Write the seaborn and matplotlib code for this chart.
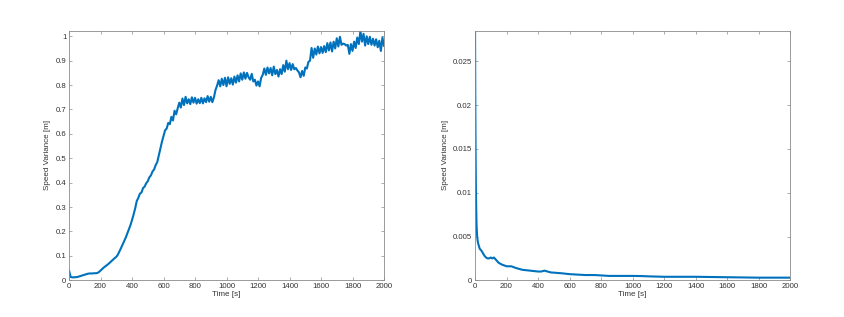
import numpy as np
import pandas as pd
import matplotlib
matplotlib.use("Agg")
import matplotlib.pyplot as plt
import seaborn as sns

# left panel: speed variance growing over time (sampled every 10 s)
time_left = list(range(0, 2001, 10))
var_left = [
    0.040, 0.014, 0.012, 0.012, 0.013, 0.013, 0.015, 0.017, 0.019, 0.021,
    0.023, 0.025, 0.027, 0.028, 0.028, 0.028, 0.029, 0.029, 0.030, 0.034,
    0.040, 0.046, 0.052, 0.057, 0.062, 0.067, 0.073, 0.079, 0.085, 0.091,
    0.096, 0.105, 0.118, 0.132, 0.146, 0.160, 0.175, 0.192, 0.208, 0.226,
    0.247, 0.270, 0.295, 0.325, 0.338, 0.355, 0.360, 0.378, 0.384, 0.398,
    0.406, 0.422, 0.430, 0.446, 0.454, 0.472, 0.484, 0.512, 0.538, 0.568,
    0.592, 0.615, 0.622, 0.645, 0.640, 0.670, 0.655, 0.695, 0.680, 0.705,
    0.728, 0.708, 0.745, 0.718, 0.752, 0.725, 0.742, 0.722, 0.750, 0.728,
    0.748, 0.724, 0.742, 0.726, 0.748, 0.725, 0.746, 0.730, 0.755, 0.732,
    0.752, 0.730, 0.750, 0.780, 0.798, 0.820, 0.795, 0.826, 0.800, 0.830,
    0.795, 0.832, 0.805, 0.828, 0.802, 0.835, 0.810, 0.840, 0.815, 0.848,
    0.822, 0.852, 0.826, 0.850, 0.832, 0.822, 0.846, 0.815, 0.822, 0.798,
    0.815, 0.795, 0.830, 0.842, 0.868, 0.842, 0.872, 0.848, 0.870, 0.840,
    0.876, 0.845, 0.862, 0.835, 0.865, 0.845, 0.882, 0.855, 0.900, 0.865,
    0.890, 0.862, 0.886, 0.865, 0.870, 0.860, 0.852, 0.832, 0.858, 0.838,
    0.872, 0.868, 0.895, 0.900, 0.952, 0.912, 0.950, 0.925, 0.958, 0.930,
    0.956, 0.932, 0.960, 0.935, 0.972, 0.942, 0.975, 0.938, 0.978, 0.950,
    0.992, 0.958, 0.998, 0.965, 0.970, 0.968, 0.962, 0.965, 0.928, 0.968,
    0.940, 0.978, 0.952, 0.995, 0.968, 1.022, 0.978, 1.010, 0.962, 1.000,
    0.968, 0.998, 0.965, 0.990, 0.962, 0.988, 0.955, 0.982, 0.940, 0.995,
    0.960,
]

# right panel: speed variance decaying over time
time_right = [0, 2, 4, 6, 8, 10, 13, 16, 20, 25, 30, 40, 50, 60, 70, 80, 90,
              100, 110, 120, 130, 150, 170, 200, 230, 260, 300, 350, 400,
              420, 440, 460, 480, 550, 600, 700, 760, 850, 1000, 1060, 1100,
              1200, 1400, 1600, 1800, 2000]
var_right = [0.0300, 0.0200, 0.0140, 0.0100, 0.0078, 0.0062, 0.0052, 0.0046,
             0.0042, 0.0039, 0.0036, 0.0034, 0.0031, 0.0028, 0.0026, 0.0025,
             0.0025, 0.0026, 0.0025, 0.0026, 0.0024, 0.0020, 0.0018, 0.0016,
             0.0016, 0.0014, 0.0012, 0.0011, 0.0010, 0.0010, 0.0011, 0.0010,
             0.0009, 0.0008, 0.0007, 0.0006, 0.0006, 0.0005, 0.0005, 0.00048,
             0.00045, 0.0004, 0.0004, 0.00035, 0.0003, 0.0003]

left_ticks = [0, 0.1, 0.2, 0.3, 0.4, 0.5, 0.6, 0.7, 0.8, 0.9, 1]
left_labels = ["0", "0.1", "0.2", "0.3", "0.4", "0.5", "0.6", "0.7", "0.8", "0.9", "1"]
right_ticks = [0, 0.005, 0.01, 0.015, 0.02, 0.025]
right_labels = ["0", "0.005", "0.01", "0.015", "0.02", "0.025"]
x_ticks = list(range(0, 2001, 200))

sns.set_theme(style="white")
plt.rcParams["font.family"] = ["Liberation Sans", "DejaVu Sans"]

line_color = "#0072BD"
axis_color = "#8a8a8a"
text_color = "#333333"

fig = plt.figure(figsize=(8.44, 3.17), dpi=100)
ax1 = fig.add_axes([0.0818, 0.1158, 0.3732, 0.7874])
ax2 = fig.add_axes([0.5628, 0.1158, 0.3736, 0.7874])

df_left = pd.DataFrame({"t": time_left, "v": var_left})
df_right = pd.DataFrame({"t": time_right, "v": var_right})

sns.lineplot(data=df_left, x="t", y="v", ax=ax1, color=line_color, linewidth=1.5)
sns.lineplot(data=df_right, x="t", y="v", ax=ax2, color=line_color, linewidth=1.5)

for ax, ticks, labels, ytop in [(ax1, left_ticks, left_labels, 1.023),
                                (ax2, right_ticks, right_labels, 0.0285)]:
    ax.set_xlim(0, 2000)
    ax.set_ylim(0, ytop)
    ax.set_xticks(x_ticks)
    ax.set_xticklabels([str(t) for t in x_ticks])
    ax.set_yticks(ticks)
    ax.set_yticklabels(labels)
    ax.set_xlabel("Time [s]", fontsize=5.8, color=text_color, labelpad=1)
    ax.set_ylabel("Speed Variance [m]", fontsize=5.8, color=text_color, labelpad=3)
    ax.tick_params(direction="in", length=2.5, width=0.5, color=axis_color,
                   labelsize=5.6, labelcolor=text_color, pad=2,
                   top=True, right=True, bottom=True, left=True)
    for sp in ax.spines.values():
        sp.set_visible(True)
        sp.set_color(axis_color)
        sp.set_linewidth(0.6)

fig.savefig("out.png", dpi=100)
plt.close()
